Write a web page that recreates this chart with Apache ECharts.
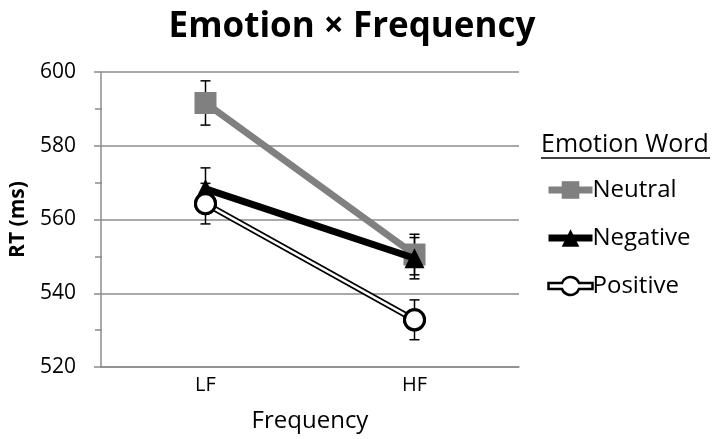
<!DOCTYPE html>
<html><head><meta charset="utf-8">
<script src="https://cdn.jsdelivr.net/npm/echarts@6/dist/echarts.min.js"></script>
<style>html,body{margin:0;padding:0;background:#fff}#c{width:714px;height:439px}</style>
</head><body><div id="c"></div>
<script>
const categories = ['LF', 'HF'];
const neutral = [591.6, 550.5];
const neutralErr = [6.0, 5.5];
const negative = [568.3, 549.5];
const negativeErr = [5.7, 5.6];
const positive = [564.3, 532.8];
const positiveErr = [5.5, 5.4];
const yTicks = [520, 540, 560, 580, 600];

const FONT = '"Open Sans", sans-serif';
const chart = echarts.init(document.getElementById('c'));

function errSeries(vals, errs, z) {
  return {
    type: 'custom', z: z, silent: true,
    data: vals.map((v, i) => [i, v - errs[i], v + errs[i]]),
    renderItem: function (params, api) {
      const lo = api.coord([api.value(0), api.value(1)]);
      const hi = api.coord([api.value(0), api.value(2)]);
      const w = 5;
      const st = {stroke: '#000', lineWidth: 1.5};
      return {type: 'group', children: [
        {type: 'line', shape: {x1: lo[0], y1: lo[1], x2: hi[0], y2: hi[1]}, style: st},
        {type: 'line', shape: {x1: lo[0]-w, y1: lo[1], x2: lo[0]+w, y2: lo[1]}, style: st},
        {type: 'line', shape: {x1: hi[0]-w, y1: hi[1], x2: hi[0]+w, y2: hi[1]}, style: st}
      ]};
    }
  };
}

// legend icon for the double-outlined line with an open circle
const posIcon = 'path://M0,-3 L13.5,-3 A9,9 0 0 1 30.5,-3 L44,-3 L44,3 L30.5,3 A9,9 0 0 1 13.5,3 L0,3 Z';

const gray = '#8c8c8c';
chart.setOption({
  animation: false,
  title: {
    text: 'Emotion × Frequency', left: 347, top: 5, textAlign: 'center',
    textStyle: {fontFamily: FONT, fontWeight: 'bold', fontSize: 35, color: '#000'}
  },
  grid: {left: 97, right: 195, top: 72, bottom: 72},
  xAxis: {
    type: 'category', data: categories, boundaryGap: true,
    name: 'Frequency', nameLocation: 'middle', nameGap: 42,
    nameTextStyle: {fontFamily: FONT, fontSize: 24, color: '#000'},
    axisLine: {lineStyle: {color: gray, width: 1.5}},
    axisTick: {show: false},
    axisLabel: {fontFamily: FONT, fontSize: 20, color: '#000', margin: 8}
  },
  yAxis: [{
    type: 'value', min: yTicks[0], max: yTicks[yTicks.length-1], interval: 20,
    name: 'RT (ms)', nameLocation: 'middle', nameGap: 72, nameMoveOverlap: false,
    nameTextStyle: {fontFamily: FONT, fontSize: 21, fontWeight: 'bold', color: '#000'},
    axisLine: {show: true, lineStyle: {color: gray, width: 1.5}},
    axisTick: {show: true, length: 7, lineStyle: {color: gray, width: 1.5}},
    minorTick: {show: true, splitNumber: 2, length: 6, lineStyle: {color: gray, width: 1.5}},
    splitLine: {lineStyle: {color: gray, width: 1.5}},
    axisLabel: {fontFamily: FONT, fontSize: 21, color: '#000', margin: 25}
  }, {
    type: 'value', min: yTicks[0], max: yTicks[yTicks.length-1], interval: 20,
    position: 'right', offset: -422,
    axisLine: {show: false}, axisLabel: {show: false}, splitLine: {show: false},
    axisTick: {show: false},
    minorTick: {show: true, splitNumber: 2, length: 5, lineStyle: {color: gray, width: 1.5}}
  }],
  legend: {
    orient: 'vertical', left: 540, top: 173, itemGap: 24,
    itemWidth: 44, itemHeight: 22,
    textStyle: {fontFamily: FONT, fontSize: 24, color: '#000', padding: [0,0,0,-5]},
    data: [
      {name: 'Neutral', lineStyle: {width: 7, color: '#808080'}},
      {name: 'Negative', lineStyle: {width: 7, color: '#000'}},
      {name: 'Positive', icon: posIcon, itemStyle: {color: '#fff', borderColor: '#000', borderWidth: 2.5}}
    ]
  },
  graphic: [
    {type: 'text', left: 541, top: 132, style: {text: 'Emotion Word', font: '25px "Open Sans", sans-serif', fill: '#000'}},
    {type: 'line', shape: {x1: 541, y1: 158, x2: 710, y2: 158}, style: {stroke: '#000', lineWidth: 1.5}}
  ],
  series: [
    errSeries(neutral, neutralErr, 1),
    errSeries(negative, negativeErr, 1),
    errSeries(positive, positiveErr, 1),
    {
      name: 'Neutral', type: 'line', data: neutral, z: 3,
      symbol: 'rect', symbolSize: 22,
      lineStyle: {color: '#808080', width: 7},
      itemStyle: {color: '#808080'}
    },
    {
      name: 'Negative', type: 'line', data: negative, z: 4,
      symbol: 'triangle', symbolSize: 20,
      lineStyle: {color: '#000', width: 7},
      itemStyle: {color: '#000'}
    },
    {
      name: 'Positive', type: 'line', data: positive, z: 5,
      symbol: 'circle', symbolSize: 20,
      lineStyle: {color: '#000', width: 6},
      itemStyle: {color: '#fff', borderColor: '#000', borderWidth: 3}
    },
    {
      name: 'PositiveInner', type: 'line', data: positive, z: 6,
      symbol: 'circle', symbolSize: 20,
      lineStyle: {color: '#fff', width: 2.5},
      itemStyle: {color: '#fff', borderColor: '#000', borderWidth: 3}
    }
  ]
});
</script></body></html>
